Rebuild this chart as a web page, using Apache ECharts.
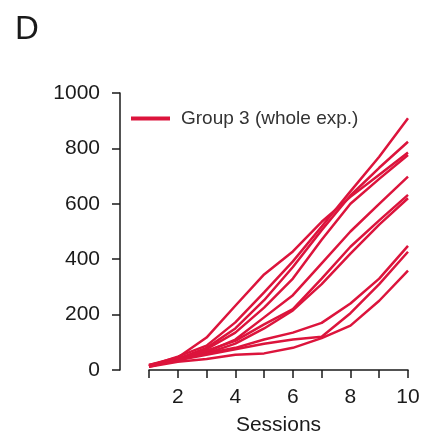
<!DOCTYPE html>
<html>
<head>
<meta charset="utf-8">
<script src="https://cdn.jsdelivr.net/npm/echarts@6/dist/echarts.min.js"></script>
<style>html,body{margin:0;padding:0;background:#fff}#c{width:436px;height:437px}</style>
</head>
<body>
<div id="c"></div>
<script>
var sessions = [1, 2, 3, 4, 5, 6, 7, 8, 9, 10];
var yTicks = [0, 200, 400, 600, 800, 1000];
var xTickLabels = ['2', '4', '6', '8', '10'];
var seriesName = 'Group 3 (whole exp.)';
var s1 = [18, 45, 117, 232, 345, 428, 535, 625, 705, 785];
var s2 = [15, 48, 88, 172, 280, 392, 518, 645, 770, 909];
var s3 = [14, 40, 80, 150, 252, 372, 505, 630, 730, 824];
var s4 = [12, 38, 75, 135, 225, 330, 470, 600, 690, 776];
var s5 = [14, 35, 65, 110, 190, 270, 385, 500, 600, 698];
var s6 = [16, 42, 70, 105, 165, 220, 330, 445, 540, 632];
var s7 = [13, 36, 60, 95, 150, 215, 310, 420, 525, 620];
var s8 = [18, 40, 60, 80, 110, 135, 170, 240, 330, 448];
var s9 = [15, 35, 55, 75, 95, 110, 120, 205, 310, 427];
var s10 = [12, 30, 40, 55, 60, 80, 115, 160, 250, 359];
var allSeries = [s1, s2, s3, s4, s5, s6, s7, s8, s9, s10];

var color = '#DC143C';
var ink = '#1a1a1a';
var chart = echarts.init(document.getElementById('c'), null, {renderer: 'canvas'});
var font = 'Liberation Sans, Arial, sans-serif';
chart.setOption({
  animation: false,
  textStyle: {fontFamily: font},
  title: {text: 'D', left: 10, top: 8, textStyle: {fontSize: 33, fontWeight: 'normal', color: ink, fontFamily: font}},
  legend: {
    data: [seriesName],
    left: 126, top: 104,
    icon: 'rect', itemWidth: 39, itemHeight: 4,
    textStyle: {fontSize: 19, color: '#333', fontFamily: font, padding: [0, 0, 0, 6]}
  },
  grid: {left: 149, right: 28, top: 93, bottom: 67, outerBoundsMode: 'none', containLabel: false},
  xAxis: {
    type: 'value', min: 1, max: 10, interval: 1, offset: 3,
    name: 'Sessions', nameLocation: 'middle', nameGap: 42,
    nameTextStyle: {fontSize: 21, color: ink, fontFamily: font},
    axisLine: {show: true, lineStyle: {color: ink, width: 1.5}},
    axisTick: {show: true, length: 8, lineStyle: {color: ink, width: 1.5}},
    axisLabel: {fontSize: 21, color: ink, margin: 14, fontFamily: font,
      formatter: function (v) { return xTickLabels.indexOf(String(v)) >= 0 ? String(v) : ''; }},
    splitLine: {show: false}
  },
  yAxis: {
    type: 'value', min: yTicks[0], max: yTicks[yTicks.length - 1], interval: 200, offset: 29,
    axisLine: {show: true, lineStyle: {color: ink, width: 1.5}},
    axisTick: {show: true, length: 8, lineStyle: {color: ink, width: 1.5}},
    axisLabel: {fontSize: 21, color: ink, margin: 20, fontFamily: font,
      formatter: function (v) { return String(v); }},
    splitLine: {show: false}
  },
  series: allSeries.map(function (d) {
    return {
      name: seriesName, type: 'line', symbol: 'none', color: color,
      lineStyle: {width: 2.5, color: color},
      data: sessions.map(function (x, i) { return [x, d[i]]; })
    };
  })
});
</script>
</body>
</html>
